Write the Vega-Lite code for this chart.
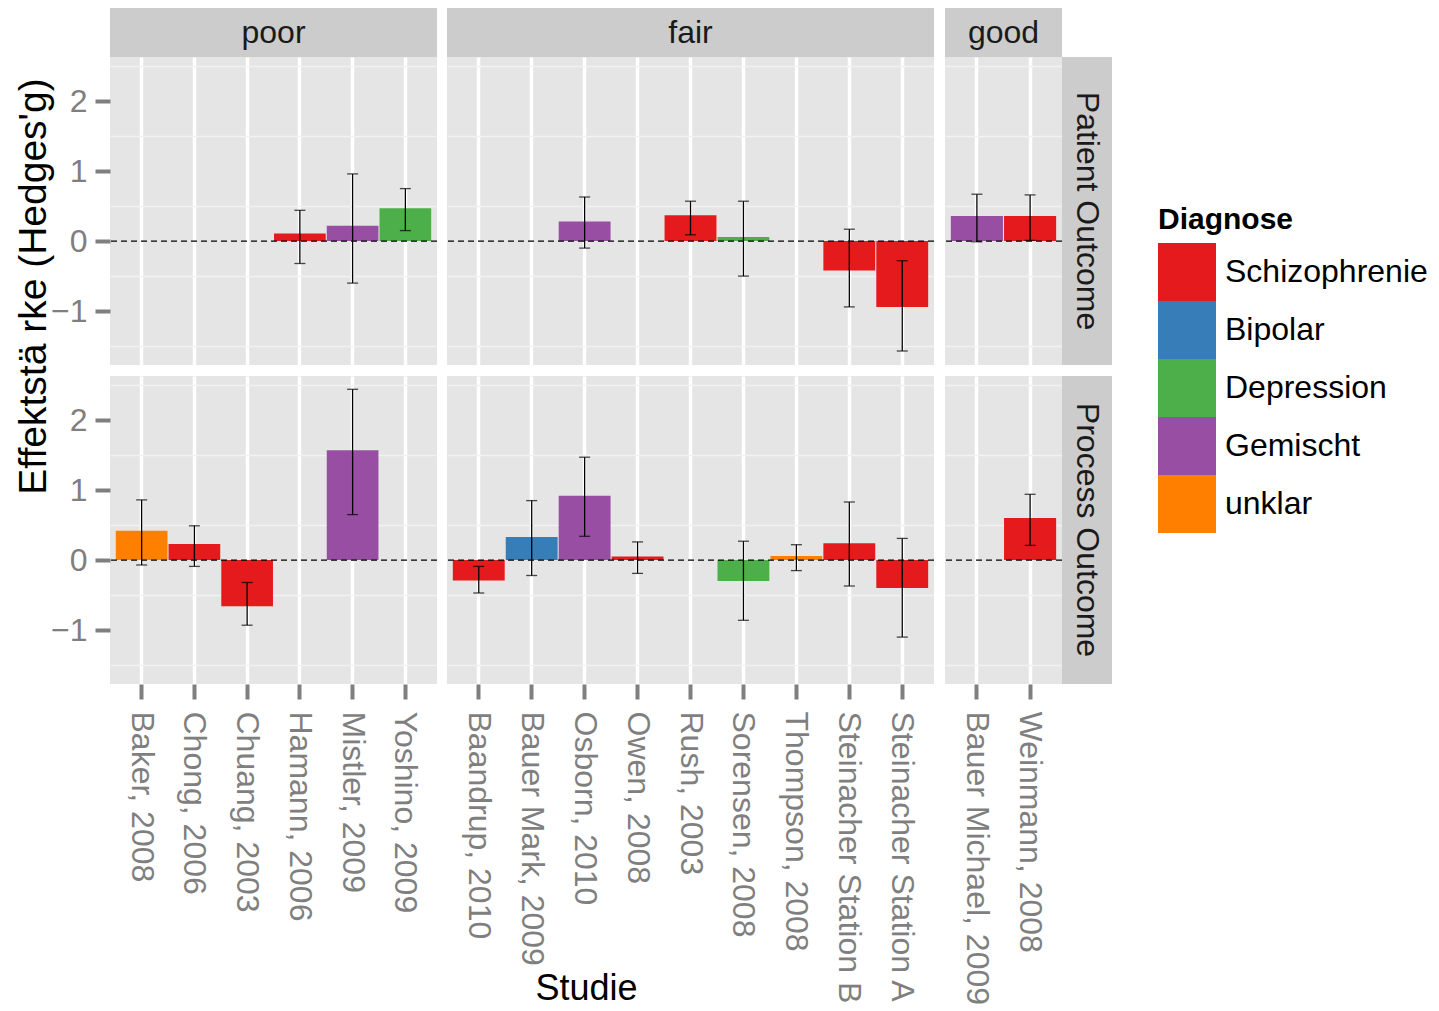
{
  "$schema": "https://vega.github.io/schema/vega-lite/v6.json",
  "background": "#ffffff",
  "padding": {"left": 13, "top": 8, "right": 5, "bottom": 0},
  "datasets": {
    "studien": [
      {"Studie": "Hamann, 2006", "Kriterium": "poor", "Outcome": "Patient Outcome", "Diagnose": "Schizophrenie", "g": 0.11, "lo": -0.32, "hi": 0.44},
      {"Studie": "Mistler, 2009", "Kriterium": "poor", "Outcome": "Patient Outcome", "Diagnose": "Gemischt", "g": 0.22, "lo": -0.6, "hi": 0.96},
      {"Studie": "Yoshino, 2009", "Kriterium": "poor", "Outcome": "Patient Outcome", "Diagnose": "Depression", "g": 0.47, "lo": 0.15, "hi": 0.75},
      {"Studie": "Osborn, 2010", "Kriterium": "fair", "Outcome": "Patient Outcome", "Diagnose": "Gemischt", "g": 0.28, "lo": -0.1, "hi": 0.63},
      {"Studie": "Rush, 2003", "Kriterium": "fair", "Outcome": "Patient Outcome", "Diagnose": "Schizophrenie", "g": 0.37, "lo": 0.09, "hi": 0.57},
      {"Studie": "Sorensen, 2008", "Kriterium": "fair", "Outcome": "Patient Outcome", "Diagnose": "Depression", "g": 0.06, "lo": -0.5, "hi": 0.57},
      {"Studie": "Steinacher Station B", "Kriterium": "fair", "Outcome": "Patient Outcome", "Diagnose": "Schizophrenie", "g": -0.42, "lo": -0.94, "hi": 0.17},
      {"Studie": "Steinacher Station A", "Kriterium": "fair", "Outcome": "Patient Outcome", "Diagnose": "Schizophrenie", "g": -0.94, "lo": -1.57, "hi": -0.28},
      {"Studie": "Bauer Michael, 2009", "Kriterium": "good", "Outcome": "Patient Outcome", "Diagnose": "Gemischt", "g": 0.36, "lo": -0.01, "hi": 0.67},
      {"Studie": "Weinmann, 2008", "Kriterium": "good", "Outcome": "Patient Outcome", "Diagnose": "Schizophrenie", "g": 0.36, "lo": 0.01, "hi": 0.66},
      {"Studie": "Baker, 2008", "Kriterium": "poor", "Outcome": "Process Outcome", "Diagnose": "unklar", "g": 0.42, "lo": -0.07, "hi": 0.86},
      {"Studie": "Chong, 2006", "Kriterium": "poor", "Outcome": "Process Outcome", "Diagnose": "Schizophrenie", "g": 0.23, "lo": -0.09, "hi": 0.49},
      {"Studie": "Chuang, 2003", "Kriterium": "poor", "Outcome": "Process Outcome", "Diagnose": "Schizophrenie", "g": -0.66, "lo": -0.93, "hi": -0.32},
      {"Studie": "Mistler, 2009", "Kriterium": "poor", "Outcome": "Process Outcome", "Diagnose": "Gemischt", "g": 1.57, "lo": 0.65, "hi": 2.44},
      {"Studie": "Baandrup, 2010", "Kriterium": "fair", "Outcome": "Process Outcome", "Diagnose": "Schizophrenie", "g": -0.29, "lo": -0.47, "hi": -0.09},
      {"Studie": "Bauer Mark, 2009", "Kriterium": "fair", "Outcome": "Process Outcome", "Diagnose": "Bipolar", "g": 0.33, "lo": -0.22, "hi": 0.85},
      {"Studie": "Osborn, 2010", "Kriterium": "fair", "Outcome": "Process Outcome", "Diagnose": "Gemischt", "g": 0.92, "lo": 0.34, "hi": 1.47},
      {"Studie": "Owen, 2008", "Kriterium": "fair", "Outcome": "Process Outcome", "Diagnose": "Schizophrenie", "g": 0.05, "lo": -0.19, "hi": 0.26},
      {"Studie": "Sorensen, 2008", "Kriterium": "fair", "Outcome": "Process Outcome", "Diagnose": "Depression", "g": -0.3, "lo": -0.86, "hi": 0.27},
      {"Studie": "Thompson, 2008", "Kriterium": "fair", "Outcome": "Process Outcome", "Diagnose": "unklar", "g": 0.06, "lo": -0.15, "hi": 0.22},
      {"Studie": "Steinacher Station B", "Kriterium": "fair", "Outcome": "Process Outcome", "Diagnose": "Schizophrenie", "g": 0.24, "lo": -0.37, "hi": 0.83},
      {"Studie": "Steinacher Station A", "Kriterium": "fair", "Outcome": "Process Outcome", "Diagnose": "Schizophrenie", "g": -0.4, "lo": -1.1, "hi": 0.31},
      {"Studie": "Weinmann, 2008", "Kriterium": "good", "Outcome": "Process Outcome", "Diagnose": "Schizophrenie", "g": 0.6, "lo": 0.21, "hi": 0.94}
    ]
  },
  "columns": 6,
  "spacing": 0,
  "bounds": "flush",
  "align": "each",
  "concat": [
    {"width": 327, "height": 49, "data": {"values": [{"Kriterium": "poor"}]}, "view": {"fill": "#cccccc"}, "mark": {"type": "text", "fontSize": 32, "color": "#1a1a1a", "font": "Liberation Sans"}, "encoding": {"text": {"field": "Kriterium", "type": "nominal"}}},
    {"width": 10, "height": 49, "data": {"values": []}, "mark": "text"},
    {"width": 487, "height": 49, "data": {"values": [{"Kriterium": "fair"}]}, "view": {"fill": "#cccccc"}, "mark": {"type": "text", "fontSize": 32, "color": "#1a1a1a", "font": "Liberation Sans"}, "encoding": {"text": {"field": "Kriterium", "type": "nominal"}}},
    {"width": 11, "height": 49, "data": {"values": []}, "mark": "text"},
    {"width": 117, "height": 49, "data": {"values": [{"Kriterium": "good"}]}, "view": {"fill": "#cccccc"}, "mark": {"type": "text", "fontSize": 32, "color": "#1a1a1a", "font": "Liberation Sans"}, "encoding": {"text": {"field": "Kriterium", "type": "nominal"}}},
    {"width": 50, "height": 49, "data": {"values": []}, "mark": "text"},

    {"width": 327, "height": 308, "data": {"name": "studien"},
     "transform": [{"filter": "datum.Kriterium === 'poor' && datum.Outcome === 'Patient Outcome'"}],
     "view": {"fill": "#e5e5e5"},
     "resolve": {"axis": {"y": "independent"}},
     "layer": [
       {"data": {"values": [{}]}, "mark": {"type": "rule", "opacity": 0}, "encoding": {"y": {"datum": 0, "type": "quantitative", "scale": {"domain": [-1.77, 2.63], "nice": false}, "axis": {"orient": "left", "values": [-1.5, -0.5, 0.5, 1.5, 2.5], "labels": false, "ticks": false, "title": null, "gridColor": "#f2f2f2", "gridWidth": 1.5}}}},
       {"mark": {"type": "bar"}, "encoding": {
         "x": {"field": "Studie", "type": "nominal", "scale": {"domain": ["Baker, 2008", "Chong, 2006", "Chuang, 2003", "Hamann, 2006", "Mistler, 2009", "Yoshino, 2009"], "paddingInner": 0.02, "paddingOuter": 0.11}, "axis": {"labels": false, "ticks": false, "title": null}},
         "y": {"field": "g", "type": "quantitative", "scale": {"domain": [-1.77, 2.63], "nice": false}, "axis": {"orient": "left", "values": [-1, 0, 1, 2], "format": "d", "labelPadding": 8, "tickWidth": 4, "tickSize": 15, "title": "Effektstä rke (Hedges'g)", "titleFontSize": 39, "titleX": -65, "titleY": 229, "titleBaseline": "alphabetic", "titleAngle": -90, "titleAlign": "center"}},
         "color": {"field": "Diagnose", "type": "nominal", "title": "Diagnose", "scale": {"domain": ["Schizophrenie", "Bipolar", "Depression", "Gemischt", "unklar"], "range": ["#E41A1C", "#377EB8", "#4DAF4A", "#984EA3", "#FF7F00"]}}}},
       {"data": {"values": [{}]}, "mark": {"type": "rule", "color": "#000000", "strokeDash": [6, 4], "strokeWidth": 1.3}, "encoding": {"y": {"datum": 0, "type": "quantitative", "scale": {"domain": [-1.77, 2.63], "nice": false}, "axis": null}}},
       {"mark": {"type": "errorbar", "ticks": true, "size": 11, "thickness": 1.3, "color": "#000000"}, "encoding": {
         "x": {"field": "Studie", "type": "nominal", "scale": {"domain": ["Baker, 2008", "Chong, 2006", "Chuang, 2003", "Hamann, 2006", "Mistler, 2009", "Yoshino, 2009"], "paddingInner": 0.02, "paddingOuter": 0.11}, "axis": {"labels": false, "ticks": false, "title": null}},
         "y": {"field": "lo", "type": "quantitative", "scale": {"domain": [-1.77, 2.63], "nice": false}, "axis": null},
         "y2": {"field": "hi"}}}
     ]},
    {"width": 10, "height": 308, "data": {"values": []}, "mark": "text"},
    {"width": 487, "height": 308, "data": {"name": "studien"},
     "transform": [{"filter": "datum.Kriterium === 'fair' && datum.Outcome === 'Patient Outcome'"}],
     "view": {"fill": "#e5e5e5"},
     "resolve": {"axis": {"y": "independent"}},
     "layer": [
       {"data": {"values": [{}]}, "mark": {"type": "rule", "opacity": 0}, "encoding": {"y": {"datum": 0, "type": "quantitative", "scale": {"domain": [-1.77, 2.63], "nice": false}, "axis": {"orient": "left", "values": [-1.5, -0.5, 0.5, 1.5, 2.5], "labels": false, "ticks": false, "title": null, "gridColor": "#f2f2f2", "gridWidth": 1.5}}}},
       {"mark": {"type": "bar"}, "encoding": {
         "x": {"field": "Studie", "type": "nominal", "scale": {"domain": ["Baandrup, 2010", "Bauer Mark, 2009", "Osborn, 2010", "Owen, 2008", "Rush, 2003", "Sorensen, 2008", "Thompson, 2008", "Steinacher Station B", "Steinacher Station A"], "paddingInner": 0.02, "paddingOuter": 0.11}, "axis": {"labels": false, "ticks": false, "title": null}},
         "y": {"field": "g", "type": "quantitative", "scale": {"domain": [-1.77, 2.63], "nice": false}, "axis": {"orient": "left", "values": [-1, 0, 1, 2], "labels": false, "ticks": false, "title": null}},
         "color": {"field": "Diagnose", "type": "nominal", "title": "Diagnose", "scale": {"domain": ["Schizophrenie", "Bipolar", "Depression", "Gemischt", "unklar"], "range": ["#E41A1C", "#377EB8", "#4DAF4A", "#984EA3", "#FF7F00"]}}}},
       {"data": {"values": [{}]}, "mark": {"type": "rule", "color": "#000000", "strokeDash": [6, 4], "strokeWidth": 1.3}, "encoding": {"y": {"datum": 0, "type": "quantitative", "scale": {"domain": [-1.77, 2.63], "nice": false}, "axis": null}}},
       {"mark": {"type": "errorbar", "ticks": true, "size": 11, "thickness": 1.3, "color": "#000000"}, "encoding": {
         "x": {"field": "Studie", "type": "nominal", "scale": {"domain": ["Baandrup, 2010", "Bauer Mark, 2009", "Osborn, 2010", "Owen, 2008", "Rush, 2003", "Sorensen, 2008", "Thompson, 2008", "Steinacher Station B", "Steinacher Station A"], "paddingInner": 0.02, "paddingOuter": 0.11}, "axis": {"labels": false, "ticks": false, "title": null}},
         "y": {"field": "lo", "type": "quantitative", "scale": {"domain": [-1.77, 2.63], "nice": false}, "axis": null},
         "y2": {"field": "hi"}}}
     ]},
    {"width": 11, "height": 308, "data": {"values": []}, "mark": "text"},
    {"width": 117, "height": 308, "data": {"name": "studien"},
     "transform": [{"filter": "datum.Kriterium === 'good' && datum.Outcome === 'Patient Outcome'"}],
     "view": {"fill": "#e5e5e5"},
     "resolve": {"axis": {"y": "independent"}},
     "layer": [
       {"data": {"values": [{}]}, "mark": {"type": "rule", "opacity": 0}, "encoding": {"y": {"datum": 0, "type": "quantitative", "scale": {"domain": [-1.77, 2.63], "nice": false}, "axis": {"orient": "left", "values": [-1.5, -0.5, 0.5, 1.5, 2.5], "labels": false, "ticks": false, "title": null, "gridColor": "#f2f2f2", "gridWidth": 1.5}}}},
       {"mark": {"type": "bar"}, "encoding": {
         "x": {"field": "Studie", "type": "nominal", "scale": {"domain": ["Bauer Michael, 2009", "Weinmann, 2008"], "paddingInner": 0.02, "paddingOuter": 0.11}, "axis": {"labels": false, "ticks": false, "title": null}},
         "y": {"field": "g", "type": "quantitative", "scale": {"domain": [-1.77, 2.63], "nice": false}, "axis": {"orient": "left", "values": [-1, 0, 1, 2], "labels": false, "ticks": false, "title": null}},
         "color": {"field": "Diagnose", "type": "nominal", "title": "Diagnose", "scale": {"domain": ["Schizophrenie", "Bipolar", "Depression", "Gemischt", "unklar"], "range": ["#E41A1C", "#377EB8", "#4DAF4A", "#984EA3", "#FF7F00"]}}}},
       {"data": {"values": [{}]}, "mark": {"type": "rule", "color": "#000000", "strokeDash": [6, 4], "strokeWidth": 1.3}, "encoding": {"y": {"datum": 0, "type": "quantitative", "scale": {"domain": [-1.77, 2.63], "nice": false}, "axis": null}}},
       {"mark": {"type": "errorbar", "ticks": true, "size": 11, "thickness": 1.3, "color": "#000000"}, "encoding": {
         "x": {"field": "Studie", "type": "nominal", "scale": {"domain": ["Bauer Michael, 2009", "Weinmann, 2008"], "paddingInner": 0.02, "paddingOuter": 0.11}, "axis": {"labels": false, "ticks": false, "title": null}},
         "y": {"field": "lo", "type": "quantitative", "scale": {"domain": [-1.77, 2.63], "nice": false}, "axis": null},
         "y2": {"field": "hi"}}}
     ]},
    {"width": 50, "height": 308, "data": {"values": [{"Outcome": "Patient Outcome"}]}, "view": {"fill": "#cccccc"}, "mark": {"type": "text", "fontSize": 32, "angle": 90, "color": "#1a1a1a", "font": "Liberation Sans"}, "encoding": {"text": {"field": "Outcome", "type": "nominal"}}},

    {"width": 327, "height": 11, "data": {"values": []}, "mark": "text"},
    {"width": 10, "height": 11, "data": {"values": []}, "mark": "text"},
    {"width": 487, "height": 11, "data": {"values": []}, "mark": "text"},
    {"width": 11, "height": 11, "data": {"values": []}, "mark": "text"},
    {"width": 117, "height": 11, "data": {"values": []}, "mark": "text"},
    {"width": 50, "height": 11, "data": {"values": []}, "mark": "text"},

    {"width": 327, "height": 308, "data": {"name": "studien"},
     "transform": [{"filter": "datum.Kriterium === 'poor' && datum.Outcome === 'Process Outcome'"}],
     "view": {"fill": "#e5e5e5"},
     "resolve": {"axis": {"y": "independent"}},
     "layer": [
       {"data": {"values": [{}]}, "mark": {"type": "rule", "opacity": 0}, "encoding": {"y": {"datum": 0, "type": "quantitative", "scale": {"domain": [-1.77, 2.63], "nice": false}, "axis": {"orient": "left", "values": [-1.5, -0.5, 0.5, 1.5, 2.5], "labels": false, "ticks": false, "title": null, "gridColor": "#f2f2f2", "gridWidth": 1.5}}}},
       {"mark": {"type": "bar"}, "encoding": {
         "x": {"field": "Studie", "type": "nominal", "scale": {"domain": ["Baker, 2008", "Chong, 2006", "Chuang, 2003", "Hamann, 2006", "Mistler, 2009", "Yoshino, 2009"], "paddingInner": 0.02, "paddingOuter": 0.11}, "axis": {"title": null}},
         "y": {"field": "g", "type": "quantitative", "scale": {"domain": [-1.77, 2.63], "nice": false}, "axis": {"orient": "left", "values": [-1, 0, 1, 2], "format": "d", "labelPadding": 8, "tickWidth": 4, "tickSize": 15, "title": null}},
         "color": {"field": "Diagnose", "type": "nominal", "title": "Diagnose", "scale": {"domain": ["Schizophrenie", "Bipolar", "Depression", "Gemischt", "unklar"], "range": ["#E41A1C", "#377EB8", "#4DAF4A", "#984EA3", "#FF7F00"]}}}},
       {"data": {"values": [{}]}, "mark": {"type": "rule", "color": "#000000", "strokeDash": [6, 4], "strokeWidth": 1.3}, "encoding": {"y": {"datum": 0, "type": "quantitative", "scale": {"domain": [-1.77, 2.63], "nice": false}, "axis": null}}},
       {"mark": {"type": "errorbar", "ticks": true, "size": 11, "thickness": 1.3, "color": "#000000"}, "encoding": {
         "x": {"field": "Studie", "type": "nominal", "scale": {"domain": ["Baker, 2008", "Chong, 2006", "Chuang, 2003", "Hamann, 2006", "Mistler, 2009", "Yoshino, 2009"], "paddingInner": 0.02, "paddingOuter": 0.11}, "axis": {"title": null}},
         "y": {"field": "lo", "type": "quantitative", "scale": {"domain": [-1.77, 2.63], "nice": false}, "axis": null},
         "y2": {"field": "hi"}}}
     ]},
    {"width": 10, "height": 308, "data": {"values": []}, "mark": "text"},
    {"width": 487, "height": 308, "data": {"name": "studien"},
     "transform": [{"filter": "datum.Kriterium === 'fair' && datum.Outcome === 'Process Outcome'"}],
     "view": {"fill": "#e5e5e5"},
     "resolve": {"axis": {"y": "independent"}},
     "layer": [
       {"data": {"values": [{}]}, "mark": {"type": "rule", "opacity": 0}, "encoding": {"y": {"datum": 0, "type": "quantitative", "scale": {"domain": [-1.77, 2.63], "nice": false}, "axis": {"orient": "left", "values": [-1.5, -0.5, 0.5, 1.5, 2.5], "labels": false, "ticks": false, "title": null, "gridColor": "#f2f2f2", "gridWidth": 1.5}}}},
       {"mark": {"type": "bar"}, "encoding": {
         "x": {"field": "Studie", "type": "nominal", "scale": {"domain": ["Baandrup, 2010", "Bauer Mark, 2009", "Osborn, 2010", "Owen, 2008", "Rush, 2003", "Sorensen, 2008", "Thompson, 2008", "Steinacher Station B", "Steinacher Station A"], "paddingInner": 0.02, "paddingOuter": 0.11}, "axis": {"title": "Studie", "titleFontSize": 36, "titleX": 139, "titleY": 315, "titleBaseline": "alphabetic", "titleAlign": "center", "titleAngle": 0}},
         "y": {"field": "g", "type": "quantitative", "scale": {"domain": [-1.77, 2.63], "nice": false}, "axis": {"orient": "left", "values": [-1, 0, 1, 2], "labels": false, "ticks": false, "title": null}},
         "color": {"field": "Diagnose", "type": "nominal", "title": "Diagnose", "scale": {"domain": ["Schizophrenie", "Bipolar", "Depression", "Gemischt", "unklar"], "range": ["#E41A1C", "#377EB8", "#4DAF4A", "#984EA3", "#FF7F00"]}}}},
       {"data": {"values": [{}]}, "mark": {"type": "rule", "color": "#000000", "strokeDash": [6, 4], "strokeWidth": 1.3}, "encoding": {"y": {"datum": 0, "type": "quantitative", "scale": {"domain": [-1.77, 2.63], "nice": false}, "axis": null}}},
       {"mark": {"type": "errorbar", "ticks": true, "size": 11, "thickness": 1.3, "color": "#000000"}, "encoding": {
         "x": {"field": "Studie", "type": "nominal", "scale": {"domain": ["Baandrup, 2010", "Bauer Mark, 2009", "Osborn, 2010", "Owen, 2008", "Rush, 2003", "Sorensen, 2008", "Thompson, 2008", "Steinacher Station B", "Steinacher Station A"], "paddingInner": 0.02, "paddingOuter": 0.11}, "axis": {"title": "Studie", "titleFontSize": 36, "titleX": 139, "titleY": 315, "titleBaseline": "alphabetic", "titleAlign": "center", "titleAngle": 0}},
         "y": {"field": "lo", "type": "quantitative", "scale": {"domain": [-1.77, 2.63], "nice": false}, "axis": null},
         "y2": {"field": "hi"}}}
     ]},
    {"width": 11, "height": 308, "data": {"values": []}, "mark": "text"},
    {"width": 117, "height": 308, "data": {"name": "studien"},
     "transform": [{"filter": "datum.Kriterium === 'good' && datum.Outcome === 'Process Outcome'"}],
     "view": {"fill": "#e5e5e5"},
     "resolve": {"axis": {"y": "independent"}},
     "layer": [
       {"data": {"values": [{}]}, "mark": {"type": "rule", "opacity": 0}, "encoding": {"y": {"datum": 0, "type": "quantitative", "scale": {"domain": [-1.77, 2.63], "nice": false}, "axis": {"orient": "left", "values": [-1.5, -0.5, 0.5, 1.5, 2.5], "labels": false, "ticks": false, "title": null, "gridColor": "#f2f2f2", "gridWidth": 1.5}}}},
       {"mark": {"type": "bar"}, "encoding": {
         "x": {"field": "Studie", "type": "nominal", "scale": {"domain": ["Bauer Michael, 2009", "Weinmann, 2008"], "paddingInner": 0.02, "paddingOuter": 0.11}, "axis": {"title": null}},
         "y": {"field": "g", "type": "quantitative", "scale": {"domain": [-1.77, 2.63], "nice": false}, "axis": {"orient": "left", "values": [-1, 0, 1, 2], "labels": false, "ticks": false, "title": null}},
         "color": {"field": "Diagnose", "type": "nominal", "title": "Diagnose", "scale": {"domain": ["Schizophrenie", "Bipolar", "Depression", "Gemischt", "unklar"], "range": ["#E41A1C", "#377EB8", "#4DAF4A", "#984EA3", "#FF7F00"]}}}},
       {"data": {"values": [{}]}, "mark": {"type": "rule", "color": "#000000", "strokeDash": [6, 4], "strokeWidth": 1.3}, "encoding": {"y": {"datum": 0, "type": "quantitative", "scale": {"domain": [-1.77, 2.63], "nice": false}, "axis": null}}},
       {"mark": {"type": "errorbar", "ticks": true, "size": 11, "thickness": 1.3, "color": "#000000"}, "encoding": {
         "x": {"field": "Studie", "type": "nominal", "scale": {"domain": ["Bauer Michael, 2009", "Weinmann, 2008"], "paddingInner": 0.02, "paddingOuter": 0.11}, "axis": {"title": null}},
         "y": {"field": "lo", "type": "quantitative", "scale": {"domain": [-1.77, 2.63], "nice": false}, "axis": null},
         "y2": {"field": "hi"}}}
     ]},
    {"width": 50, "height": 308, "data": {"values": [{"Outcome": "Process Outcome"}]}, "view": {"fill": "#cccccc"}, "mark": {"type": "text", "fontSize": 32, "angle": 90, "color": "#1a1a1a", "font": "Liberation Sans"}, "encoding": {"text": {"field": "Outcome", "type": "nominal"}}}
  ],
  "config": {
    "font": "Liberation Sans",
    "view": {"stroke": null},
    "axis": {"domain": false, "grid": true, "gridColor": "#ffffff", "gridWidth": 3.5, "labelColor": "#7f7f7f", "labelFontSize": 32, "labelFont": "Liberation Sans", "tickColor": "#7f7f7f", "tickWidth": 4, "tickSize": 15, "titleFont": "Liberation Sans", "titleFontWeight": "normal", "titleColor": "#000000"},
    "axisX": {"bandPosition": 0.5, "labelAngle": 90, "labelAlign": "left", "labelBaseline": "middle", "labelPadding": 12, "labelLimit": 1000, "labelOverlap": false},
    "legend": {"orient": "none", "legendX": 1048, "legendY": 197, "symbolType": "square", "symbolSize": 3364, "symbolStrokeColor": "#ffffff", "symbolStrokeWidth": 0, "symbolOpacity": 1, "rowPadding": 0, "labelFontSize": 32, "labelLimit": 1000, "labelColor": "#000000", "labelOffset": 9, "labelFont": "Liberation Sans", "titleFont": "Liberation Sans", "titleFontSize": 30, "titleFontWeight": "bold", "titleColor": "#000000", "titlePadding": 8}
  }
}
